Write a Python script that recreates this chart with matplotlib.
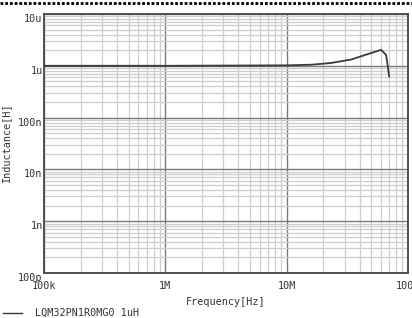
import matplotlib
matplotlib.use("Agg")
import matplotlib.pyplot as plt
from matplotlib.lines import Line2D
from matplotlib.ticker import LogLocator, NullFormatter

# Data
freq_hz = [1e5, 1e6, 1e7, 1.6e7, 2.3e7, 3.4e7, 4.9e7, 6.0e7, 6.6e7, 7.0e7]
inductance_uh = [1.0, 1.0, 1.02, 1.05, 1.13, 1.32, 1.75, 2.03, 1.63, 0.62]
series_name = "LQM32PN1R0MG0 1uH"
x_ticks = [1e5, 1e6, 1e7, 1e8]
x_ticklabels = ["100k", "1M", "10M", "100M"]
y_ticks = [1e-10, 1e-9, 1e-8, 1e-7, 1e-6, 1e-5]
y_ticklabels = ["100p", "1n", "10n", "100n", "1u", "10u"]

FONT = "DejaVu Sans Mono"
FS = 7.3

fig = plt.figure(figsize=(4.12, 3.18), dpi=100)
ax = fig.add_axes([44 / 412, 45 / 318, 364 / 412, 259 / 318])

ind_h = [v * 1e-6 for v in inductance_uh]
ax.plot(freq_hz, ind_h, color="#3a3a3a", lw=1.3, zorder=5)

ax.set_xscale("log")
ax.set_yscale("log")
ax.set_xlim(1e5, 1e8)
ax.set_ylim(1e-10, 1e-5)

ax.set_xticks(x_ticks)
ax.set_xticklabels(x_ticklabels, fontfamily=FONT, fontsize=FS, color="#333333")
ax.set_yticks(y_ticks)
ax.set_yticklabels(y_ticklabels, fontfamily=FONT, fontsize=FS, color="#333333")
ax.xaxis.set_minor_locator(LogLocator(base=10, subs=range(2, 10), numticks=20))
ax.yaxis.set_minor_locator(LogLocator(base=10, subs=range(2, 10), numticks=20))
ax.xaxis.set_minor_formatter(NullFormatter())
ax.yaxis.set_minor_formatter(NullFormatter())
ax.tick_params(which="both", length=0)
ax.tick_params(axis="x", pad=6)
ax.tick_params(axis="y", pad=1)
for lab in ax.get_yticklabels():
    lab.set_verticalalignment("top")

ax.grid(True, which="minor", color="#cdcdcd", lw=0.9)
ax.grid(True, which="major", color="#7a7a7a", lw=1.0)
ax.set_axisbelow(True)
for sp in ax.spines.values():
    sp.set_color("#505050")
    sp.set_linewidth(1.4)

ax.set_xlabel("Frequency[Hz]", fontfamily=FONT, fontsize=FS, color="#333333", labelpad=4)
ax.set_ylabel("Inductance[H]", fontfamily=FONT, fontsize=FS, color="#333333", labelpad=5)

# dotted top border
fig.add_artist(Line2D([0, 1], [1 - 3 / 318, 1 - 3 / 318], transform=fig.transFigure,
                      color="black", lw=2.0, linestyle=(0, (1, 0.7))))
# legend
fig.add_artist(Line2D([3 / 412, 22 / 412], [5 / 318, 5 / 318], transform=fig.transFigure,
                      color="#3a3a3a", lw=1.0))
fig.text(35 / 412, 5 / 318, series_name, fontfamily=FONT, fontsize=FS, color="#333333",
         va="center", ha="left")

fig.savefig("out.png", dpi=100)
